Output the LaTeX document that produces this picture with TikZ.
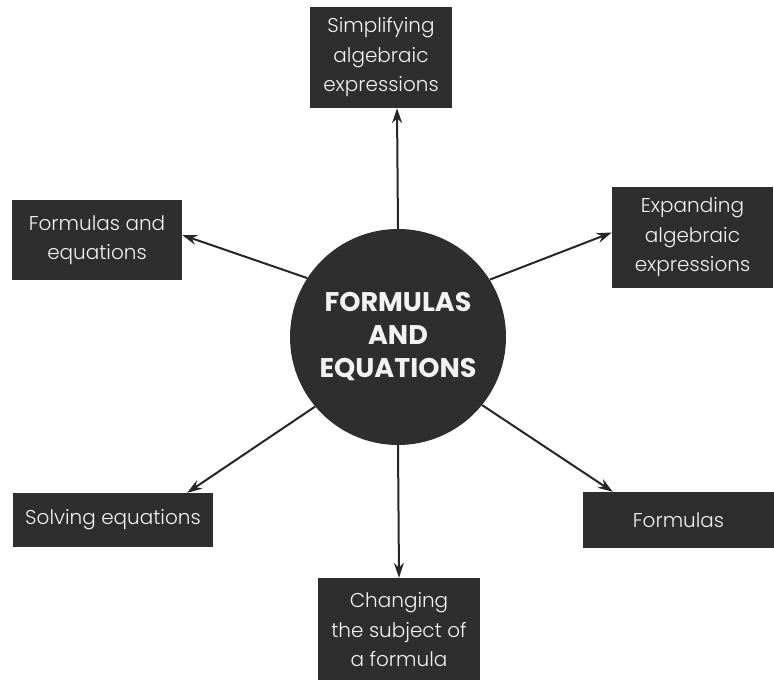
\documentclass[tikz,border=0pt]{standalone}
\usepackage{fontspec}
\IfFontExistsTF{Poppins Light}
  {\setmainfont{Poppins Light}[BoldFont=Poppins Bold]}
  {\setmainfont{Poppins}}
\usetikzlibrary{arrows.meta,calc}
\definecolor{panel}{HTML}{2E2E2E}
\definecolor{ink}{HTML}{F2F2F2}
\tikzset{
  topic/.style={fill=panel, text=ink, align=center, inner sep=0pt,
    font=\fontsize{20}{29.5}\selectfont},
  hub/.style={circle, fill=panel, text=ink, align=center, inner sep=0pt,
    minimum size=216pt, font=\bfseries\fontsize{27}{33}\selectfont},
  link/.style={line width=2pt, draw=black!85,
    -{Stealth[length=15pt,width=10pt,fill=black!55]}}
}
\begin{document}
\begin{tikzpicture}[x=1pt,y=-1pt]
  \useasboundingbox (0,0) rectangle (774,680);
  % central topic
  \node[hub] (c) at (398,337) {FORMULAS\\AND\\EQUATIONS};
  % surrounding sub-topics
  \node[topic, minimum width=142pt, minimum height=101pt] (tbox) at (381,57.5)
    {Simplifying\\algebraic\\expressions};
  \node[topic, minimum width=170pt, minimum height=80pt] (lbox) at (97,240)
    {Formulas and\\equations};
  \node[topic, minimum width=161pt, minimum height=101pt] (rbox) at (692.5,237.5)
    {Expanding\\algebraic\\expressions};
  \node[topic, minimum width=200pt, minimum height=54pt] (sbox) at (113,520)
    {Solving equations};
  \node[topic, minimum width=191pt, minimum height=56pt] (fbox) at (678.5,520)
    {Formulas};
  \node[topic, minimum width=162pt, minimum height=104pt] (cbox) at (399,630)
    {Changing\\the subject of\\a formula};
  % connectors from the hub
  \draw[link] (c.90) -- ($(tbox.south)+(16,0)$);
  \draw[link] (c.147) -- ($(lbox.east)+(0,-5)$);
  \draw[link] (c.32) -- ($(rbox.west)+(0,-5)$);
  \draw[link] (c.220) -- ($(sbox.north east)+(-26,0)$);
  \draw[link] (c.321) -- ($(fbox.north west)+(30,0)$);
  \draw[link] (c.270) -- (cbox.north);
\end{tikzpicture}
\end{document}
